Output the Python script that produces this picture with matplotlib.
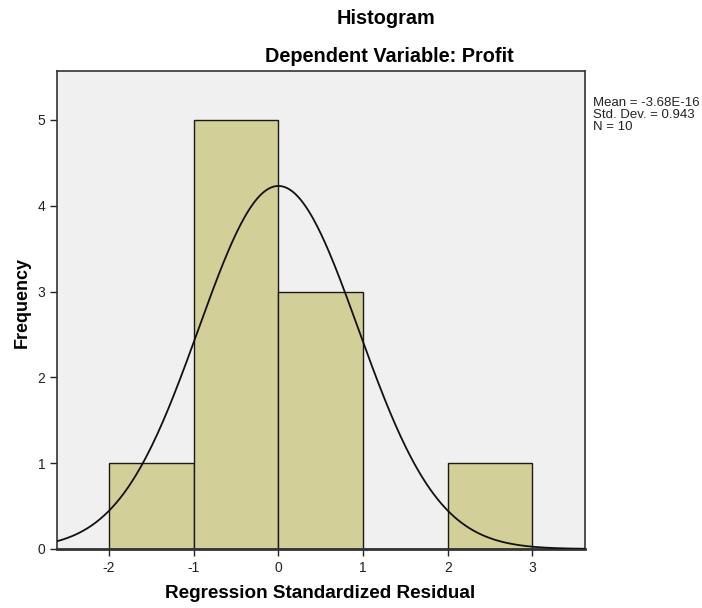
import numpy as np
import matplotlib.pyplot as plt

plt.rcParams['font.family'] = ['Liberation Sans', 'DejaVu Sans']
plt.rcParams['axes.unicode_minus'] = False

# histogram of regression standardized residuals
bin_edges = [-2, -1, 0, 1, 2, 3]
counts = [1, 5, 3, 0, 1]
mean = -3.68e-16
std_dev = 0.943
n = 10

fig = plt.figure(figsize=(7.02, 6.08), dpi=100)
ax = fig.add_axes([57/702, 59/608, 528/702, 478/608])
ax.set_facecolor('#f0f0f0')

lefts = bin_edges[:-1]
widths = np.diff(bin_edges)
ax.bar(lefts, counts, width=widths, align='edge', color='#d3cf98',
       edgecolor='#1a1a1a', linewidth=1.0, zorder=2)

# normal curve scaled to counts
xs = np.linspace(-2.62, 3.62, 400)
pdf = np.exp(-0.5 * ((xs - mean) / std_dev) ** 2) / (std_dev * np.sqrt(2 * np.pi))
ax.plot(xs, n * 1.0 * pdf, color='#111111', linewidth=1.3, zorder=3)

ax.set_xlim(-2.615, 3.62)
ax.set_ylim(0, 5.57)
ax.set_xticks([-2, -1, 0, 1, 2, 3])
ax.set_yticks([0, 1, 2, 3, 4, 5])
ax.tick_params(axis='both', direction='out', length=5, width=1,
               labelsize=10, color='#222222', labelcolor='#222222')
ax.tick_params(top=False, right=False)
for s in ax.spines.values():
    s.set_color('#333333')
    s.set_linewidth(1.2)
ax.spines['bottom'].set_linewidth(2)

fig.text(320/702, 1 - 594/608, 'Regression Standardized Residual',
         ha='center', va='center', fontsize=13.6, fontweight='bold')
fig.text(22/702, 1 - 302/608, 'Frequency', ha='center', va='center',
         rotation=90, fontsize=13, fontweight='bold')

fig.text(386/702, 1 - 18/608, 'Histogram', ha='center', va='center',
         fontsize=14.3, fontweight='bold')
fig.text(389/702, 1 - 57/608, 'Dependent Variable: Profit', ha='center', va='center',
         fontsize=14.3, fontweight='bold')

fig.text(593/702, 1 - 115/608,
         f'Mean = {mean:.2E}' + f'\nStd. Dev. = {std_dev:.3f}\nN = {n}',
         ha='left', va='center', fontsize=9.5, linespacing=1.02, color='#222222')

fig.savefig('out.png', dpi=100)
